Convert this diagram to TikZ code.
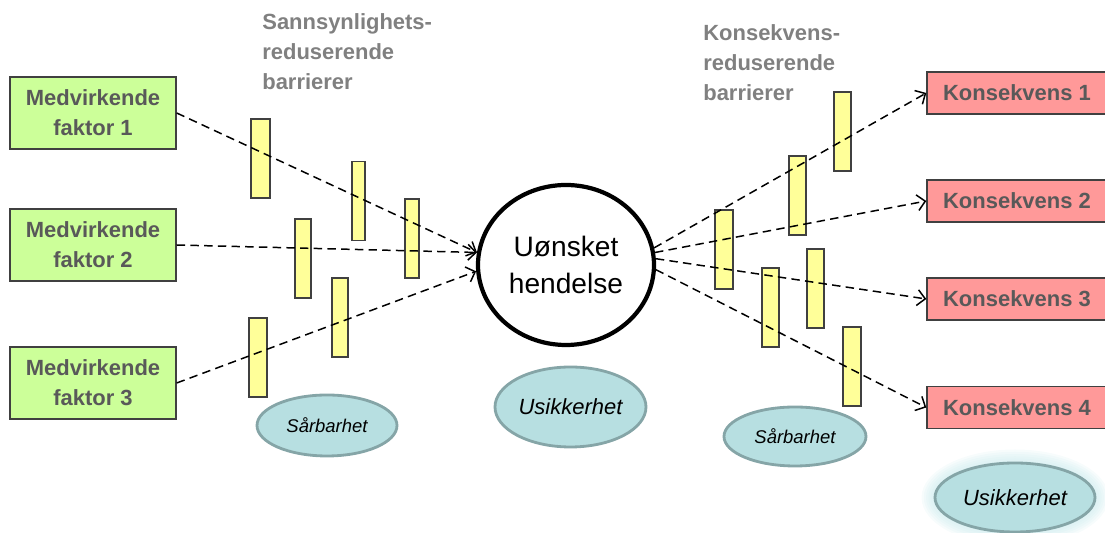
\documentclass[tikz,border=0pt]{standalone}
\usepackage{fontspec}
\setmainfont{Liberation Sans}
\usetikzlibrary{shapes.geometric,arrows.meta}

\definecolor{faktorgreen}{HTML}{CCFF99}
\definecolor{konsred}{HTML}{FF9999}
\definecolor{barryellow}{HTML}{FFFF99}
\definecolor{ellfill}{HTML}{B7DFE1}
\definecolor{elldraw}{HTML}{85A5A7}
\definecolor{glow}{HTML}{C6E9EC}
\definecolor{boxtext}{HTML}{595959}
\definecolor{headtext}{HTML}{808080}

\begin{document}
\begin{tikzpicture}[
  faktor/.style={draw=black!75, line width=0.8pt, fill=faktorgreen, minimum width=3.32cm, minimum height=1.44cm,
    align=center, text=boxtext, font=\fontsize{12.5}{17}\selectfont\bfseries},
  kons/.style={draw=black!75, line width=0.8pt, fill=konsred, minimum width=3.6cm, minimum height=0.84cm,
    text=boxtext, font=\fontsize{12.5}{15}\selectfont\bfseries},
  barr/.style={draw=black!75, line width=0.8pt, fill=barryellow, minimum height=1.58cm, inner sep=0pt},
  usik/.style={ellipse, draw=elldraw, line width=1.6pt, fill=ellfill, inner sep=0pt,
    font=\fontsize{12.5}{15}\selectfont\itshape},
  head/.style={align=left, anchor=west, inner sep=0pt, text=headtext, font=\fontsize{12.5}{17}\selectfont\bfseries},
  pil/.style={dash pattern=on 4.8pt off 3pt, line width=0.85pt, -{Straight Barb[length=4.5pt,width=9pt]}}]
\useasboundingbox (0,0) rectangle (22.1,10.66);

% overskrifter
\node[head] (h1) at (5.24,9.62) {Sannsynlighets-\\reduserende\\barrierer};
\node[head] (h2) at (14.06,9.4) {Konsekvens-\\reduserende\\barrierer};

% medvirkende faktorer
\node[faktor] (fak1) at (1.86,8.4) {Medvirkende\\faktor 1};
\node[faktor] (fak2) at (1.86,5.76) {Medvirkende\\faktor 2};
\node[faktor] (fak3) at (1.86,3.0) {Medvirkende\\faktor 3};

% konsekvenser
\node[kons] (kon1) at (20.34,8.8) {Konsekvens 1};
\node[kons] (kon2) at (20.34,6.64) {Konsekvens 2};
\node[kons] (kon3) at (20.34,4.68) {Konsekvens 3};
\node[kons] (kon4) at (20.34,2.51) {Konsekvens 4};

% hendelsen
\node[ellipse, draw, line width=2.4pt, minimum width=3.52cm, minimum height=3.2cm, inner sep=0pt,
  align=center, font=\fontsize{16}{21}\selectfont] (hend) at (11.32,5.36) {Uønsket\\hendelse};

% barrierer venstre
\node[barr, minimum width=0.38cm] (bl1) at (5.21,7.49) {};
\node[barr, minimum width=0.26cm] (bl2) at (7.17,6.64) {};
\node[barr, minimum width=0.28cm] (bl3) at (8.24,5.89) {};
\node[barr, minimum width=0.32cm] (bl4) at (6.06,5.49) {};
\node[barr, minimum width=0.32cm] (bl5) at (6.8,4.31) {};
\node[barr, minimum width=0.36cm] (bl6) at (5.16,3.51) {};

% barrierer hoyre
\node[barr, minimum width=0.34cm] (br1) at (16.85,8.03) {};
\node[barr, minimum width=0.34cm] (br2) at (15.95,6.75) {};
\node[barr, minimum width=0.36cm] (br3) at (14.48,5.67) {};
\node[barr, minimum width=0.34cm] (br4) at (15.41,4.51) {};
\node[barr, minimum width=0.34cm] (br5) at (16.31,4.89) {};
\node[barr, minimum width=0.36cm] (br6) at (17.04,3.33) {};

% piler
\draw[pil] (fak1.east) -- (hend.172);
\draw[pil] (fak2.east) -- (hend.172);
\draw[pil] (fak3.east) -- (hend.184);
\draw[pil] (hend.11) -- (kon1.west);
\draw[pil] (hend.8) -- (kon2.west);
\draw[pil] (hend.4) -- (kon3.west);
\draw[pil] (hend.357) -- (kon4.west);

% ellipser
\node[usik, minimum width=2.8cm, minimum height=1.22cm, font=\fontsize{10.5}{12}\selectfont\itshape] (sar1) at (6.54,2.15) {Sårbarhet};
\node[usik, minimum width=3.02cm, minimum height=1.6cm] (usi1) at (11.41,2.52) {Usikkerhet};
\node[usik, minimum width=2.84cm, minimum height=1.18cm, font=\fontsize{10.5}{12}\selectfont\itshape] (sar2) at (15.9,1.93) {Sårbarhet};
\foreach \g in {6,...,1}
  \fill[glow, opacity=0.14] (20.3,0.71) ellipse ({1.6+0.045*\g} and {0.69+0.045*\g});
\node[usik, minimum width=3.2cm, minimum height=1.38cm] (usi2) at (20.3,0.71) {Usikkerhet};

\end{tikzpicture}
\end{document}
